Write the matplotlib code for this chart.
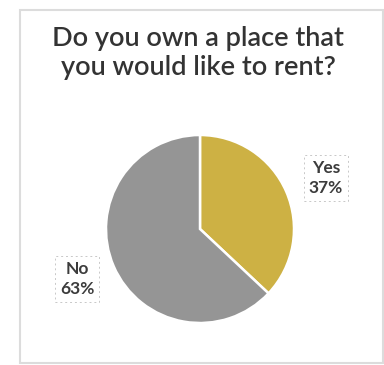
import matplotlib
matplotlib.use("Agg")
import matplotlib.pyplot as plt
from matplotlib.patches import Rectangle

categories = ["Yes", "No"]
shares = [37, 63]
colors = ["#CDB144", "#959595"]
title = "Do you own a place that\nyou would like to rent?"

W, H = 384, 365
fig = plt.figure(figsize=(W / 100, H / 100), dpi=100)
fig.patch.set_facecolor("white")

# light outer frame of the chart area
fig.patches.append(Rectangle((20 / W, 1 - 363 / H), 363 / W, 353 / H,
                             transform=fig.transFigure, fill=False,
                             ec="#DCDCDC", lw=1.5))

fig.text(198 / W, 1 - 53 / H, title, ha="center", va="center",
         fontsize=19.5, family="Lato", fontweight="semibold",
         color="#333333", linespacing=1.2)

cx, cy, r = 200, 229, 94
ax = fig.add_axes([(cx - r) / W, (H - cy - r) / H, 2 * r / W, 2 * r / H])
wedges, _ = ax.pie(shares, colors=colors, startangle=90, counterclock=False,
                   radius=1, wedgeprops=dict(ec="white", lw=1.8))
ax.set_xlim(-1, 1)
ax.set_ylim(-1, 1)
ax.set_aspect("equal")
ax.axis("off")

label_pos = {"Yes": (326, 178), "No": (77, 279)}
for cat, val in zip(categories, shares):
    x, y = label_pos[cat]
    fig.text(x / W, 1 - y / H, f"{cat}\n{val}%", ha="center", va="center",
             fontsize=12.5, family="Lato", fontweight="bold", color="#3C3C3C",
             linespacing=1.25,
             bbox=dict(boxstyle="square,pad=0.3", fc="white", ec="#C8C8C8",
                       ls=(0, (2, 3)), lw=0.7))

fig.savefig("out.png", dpi=100, facecolor="white")
